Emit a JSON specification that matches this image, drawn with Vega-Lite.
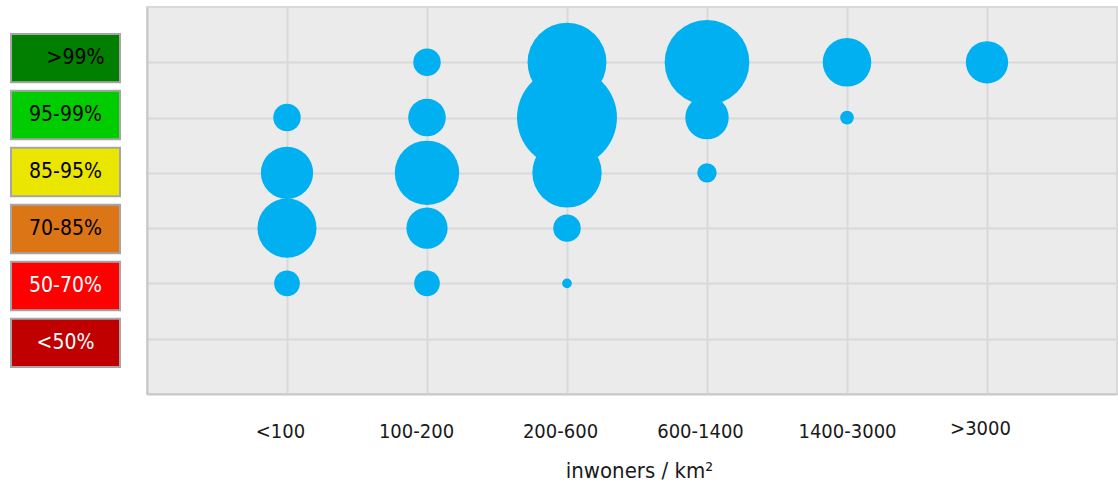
{
  "$schema": "https://vega.github.io/schema/vega-lite/v6.json",
  "padding": {"left": 10, "top": 6, "right": 0, "bottom": 0},
  "background": "white",
  "spacing": 25,
  "config": {"font": "DejaVu Sans Condensed, DejaVu Sans"},
  "datasets": {
    "legend": [
      {"label": ">99%"},
      {"label": "95-99%"},
      {"label": "85-95%"},
      {"label": "70-85%"},
      {"label": "50-70%"},
      {"label": "<50%"}
    ],
    "bubbles": [
      {"dichtheid": "<100", "dekking": "95-99%", "n": 8},
      {"dichtheid": "<100", "dekking": "85-95%", "n": 29},
      {"dichtheid": "<100", "dekking": "70-85%", "n": 37},
      {"dichtheid": "<100", "dekking": "50-70%", "n": 7},
      {"dichtheid": "100-200", "dekking": ">99%", "n": 8},
      {"dichtheid": "100-200", "dekking": "95-99%", "n": 15},
      {"dichtheid": "100-200", "dekking": "85-95%", "n": 44},
      {"dichtheid": "100-200", "dekking": "70-85%", "n": 18},
      {"dichtheid": "100-200", "dekking": "50-70%", "n": 7},
      {"dichtheid": "200-600", "dekking": ">99%", "n": 66},
      {"dichtheid": "200-600", "dekking": "95-99%", "n": 106},
      {"dichtheid": "200-600", "dekking": "85-95%", "n": 51},
      {"dichtheid": "200-600", "dekking": "70-85%", "n": 8},
      {"dichtheid": "200-600", "dekking": "50-70%", "n": 1},
      {"dichtheid": "600-1400", "dekking": ">99%", "n": 76},
      {"dichtheid": "600-1400", "dekking": "95-99%", "n": 20},
      {"dichtheid": "600-1400", "dekking": "85-95%", "n": 4},
      {"dichtheid": "1400-3000", "dekking": ">99%", "n": 25},
      {"dichtheid": "1400-3000", "dekking": "95-99%", "n": 2},
      {"dichtheid": ">3000", "dekking": ">99%", "n": 19}
    ]
  },
  "hconcat": [
    {
      "width": 109,
      "height": 387,
      "data": {"name": "legend"},
      "view": {"stroke": null},
      "encoding": {
        "y": {
          "field": "label",
          "type": "nominal",
          "scale": {
            "domain": [">99%", "95-99%", "85-95%", "70-85%", "50-70%", "<50%"],
            "paddingInner": 0.15,
            "paddingOuter": 0.4725
          },
          "axis": null
        }
      },
      "layer": [
        {
          "mark": {"type": "rect", "stroke": "#a6a6a6", "strokeWidth": 2},
          "encoding": {
            "fill": {
              "field": "label",
              "type": "nominal",
              "scale": {
                "domain": [">99%", "95-99%", "85-95%", "70-85%", "50-70%", "<50%"],
                "range": ["#007f00", "#00cc00", "#ebe600", "#dc7515", "#ff0000", "#c00000"]
              },
              "legend": null
            }
          }
        },
        {
          "transform": [{"filter": "datum.label != '>99%'"}],
          "mark": {"type": "text", "fontSize": 21},
          "encoding": {
            "text": {"field": "label", "type": "nominal"},
            "color": {
              "condition": {"test": "datum.label == '50-70%' || datum.label == '<50%'", "value": "#ffffff"},
              "value": "#000000"
            }
          }
        },
        {
          "transform": [{"filter": "datum.label == '>99%'"}],
          "mark": {"type": "text", "fontSize": 21, "dx": 10},
          "encoding": {
            "text": {"field": "label", "type": "nominal"},
            "color": {"value": "#000000"}
          }
        }
      ]
    },
    {
      "width": 970,
      "height": 387,
      "data": {"name": "bubbles"},
      "view": {"fill": "#ebebeb", "stroke": "#d9d9d9", "strokeWidth": 2},
      "mark": {"type": "circle", "opacity": 1, "color": "#00b0f0"},
      "encoding": {
        "x": {
          "field": "dichtheid",
          "type": "ordinal",
          "scale": {
            "type": "point",
            "domain": ["<100", "100-200", "200-600", "600-1400", "1400-3000", ">3000"],
            "padding": 0.9643,
            "align": 0.5185
          },
          "axis": {
            "title": "inwoners / km²",
            "titleFontSize": 22,
            "titleFontWeight": "normal",
            "titleColor": "#1a1a1a",
            "titleX": 492,
            "titleY": 83,
            "titleBaseline": "alphabetic",
            "labelFontSize": 20,
            "labelColor": "#1a1a1a",
            "labelAngle": 0,
            "labelPadding": {"condition": {"test": "datum.value == '>3000'", "value": 24}, "value": 27},
            "labelOffset": {"condition": [{"test": "datum.value == '100-200'", "value": -11}, {"test": "datum.value == '1400-3000'", "value": 0}], "value": -7},
            "ticks": false,
            "domainColor": "#c8c8c8",
            "domainWidth": 2,
            "grid": true,
            "gridColor": "#d9d9d9",
            "gridWidth": 2
          }
        },
        "y": {
          "field": "dekking",
          "type": "ordinal",
          "scale": {
            "type": "point",
            "domain": [">99%", "95-99%", "85-95%", "70-85%", "50-70%", "<50%"],
            "padding": 1
          },
          "axis": {
            "title": null,
            "labels": false,
            "ticks": false,
            "domain": true,
            "domainColor": "#c8c8c8",
            "domainWidth": 2,
            "grid": true,
            "gridColor": "#d9d9d9",
            "gridWidth": 2
          }
        },
        "size": {
          "field": "n",
          "type": "quantitative",
          "scale": {"domain": [0, 100], "range": [0, 9425]},
          "legend": null
        }
      }
    }
  ]
}
